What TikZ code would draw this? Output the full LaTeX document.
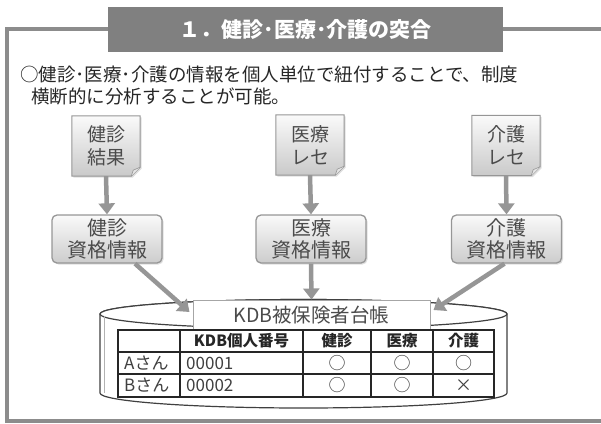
\documentclass[tikz,border=0pt]{standalone}
\usepackage{fontspec}
\setmainfont{Noto Sans CJK JP}
\usetikzlibrary{arrows.meta,shadows,calc}
\pgfdeclarelayer{bg}
\pgfsetlayers{bg,main}
\definecolor{framegray}{RGB}{140,140,140}
\definecolor{titlegray}{RGB}{128,128,128}
\definecolor{arrowgray}{RGB}{150,150,150}
\definecolor{txtgray}{RGB}{75,75,75}
\definecolor{boxedge}{RGB}{150,150,150}
\begin{document}
\begin{tikzpicture}[x=1pt,y=-1pt,
  titlebox/.style={fill=titlegray,text=white,minimum width=395pt,minimum height=45pt,inner sep=0pt,font=\fontsize{21}{24}\selectfont\bfseries},
  bodytext/.style={anchor=base west,inner sep=0pt,text=black!85,font=\fontsize{18.5}{22}\selectfont},
  docnode/.style={minimum width=68pt,minimum height=60pt,inner sep=0pt,align=center,text=txtgray,font=\fontsize{19}{23}\selectfont},
  qualbox/.style={draw=boxedge,line width=1.3pt,rounded corners=5pt,top color=gray!4,bottom color=gray!40,minimum width=110pt,minimum height=48pt,inner sep=0pt,align=center,text=txtgray,font=\fontsize{20}{22}\selectfont,drop shadow={opacity=0.25,shadow xshift=1.5pt,shadow yshift=-1.5pt}},
  docfill/.style={draw=boxedge,line width=1pt,top color=gray!4,bottom color=gray!42,drop shadow={opacity=0.25,shadow xshift=1.5pt,shadow yshift=-1.5pt}},
  arr/.style={draw=arrowgray,line width=4.5pt,-{Triangle[width=16pt,length=11pt]}},
  kdbbox/.style={draw=gray!70,line width=1pt,fill=white,minimum width=237pt,minimum height=30pt,inner sep=0pt,text=txtgray,font=\fontsize{19.5}{22}\selectfont},
  cyl/.style={draw=black!75,line width=1.2pt,fill=white},
  cell/.style={inner sep=0pt,text=black!75,font=\fontsize{17}{18}\selectfont},
  hcell/.style={cell,text=black!85,font=\fontsize{15.5}{17}\selectfont\bfseries},
  grid/.style={draw=black!85,line width=1.3pt}
]
\useasboundingbox (0,0) rectangle (601,423);
% outer frame
\draw[framegray,line width=3.5pt] (601,29) -- (7,29) -- (7,421) -- (601,421);
% title
\node[titlebox] (title) at (305.5,29.5) {１．健診･医療･介護の突合};
% intro text
\node[bodytext] (l1) at (20,81) {○健診･医療･介護の情報を個人単位で紐付することで、制度};
\node[bodytext] (l2) at (31,103) {横断的に分析することが可能。};
% documents
\node[docnode] (d1) at (106,146) {健診\\結果};
\node[docnode] (d2) at (310,145) {医療\\レセ};
\node[docnode] (d3) at (506,145.5) {介護\\レセ};
\begin{pgfonlayer}{bg}
\foreach \d in {d1,d2,d3}{
  \path[docfill] (\d.north west) -- (\d.north east) -- ($(\d.south east)+(0,-9)$) -- ($(\d.south east)+(-9,0)$) -- (\d.south west) -- cycle;
  \fill[gray!20,draw=boxedge,line width=0.6pt] ($(\d.south east)+(0,-9)$) -- ($(\d.south east)+(-7,-6)$) -- ($(\d.south east)+(-9,0)$);
}
\end{pgfonlayer}
% qualification boxes
\node[qualbox] (q1) at (107,239) {健診\\資格情報};
\node[qualbox] (q2) at (311,239) {医療\\資格情報};
\node[qualbox] (q3) at (506.5,239) {介護\\資格情報};
% arrows doc -> qual
\draw[arr] (d1.south) -- (q1.north);
\draw[arr] (d2.south) -- (q2.north);
\draw[arr] (d3.south) -- (q3.north);
% cylinder
\path[cyl] (100,314) -- (100,393) arc[start angle=180,end angle=360,x radius=203.5,y radius=-15] -- (507,314) arc[start angle=0,end angle=180,x radius=203.5,y radius=-14.5] -- cycle;
\draw[cyl] (303.5,314) ellipse[x radius=203.5,y radius=14.5];
\draw[gray!60,line width=0.8pt] (104,316) -- (104,393);
% KDB box
\node[kdbbox] (kdb) at (311.5,315) {KDB被保険者台帳};
% arrows qual -> kdb
\coordinate (e1) at ($(kdb.west)+(-3,-3)$);
\coordinate (e3) at ($(kdb.east)+(3,-5)$);
\draw[arr] ($(q1.south)+(28,0)$) -- (e1);
\draw[arr] (q2.south) -- (kdb.north);
\draw[arr] ($(q3.south)+(-2,0)$) -- (e3);
% table
\fill[white] (118,330) rectangle (494,397);
\draw[grid] (118,330) rectangle (494,397);
\foreach \yy in {352,374} \draw[grid] (118,\yy) -- (494,\yy);
\foreach \xx in {180,303,371,433} \draw[grid] (\xx,330) -- (\xx,397);
\node[hcell] (h2) at (241.5,341) {KDB個人番号};
\node[hcell] (h3) at (337,341) {健診};
\node[hcell] (h4) at (402,341) {医療};
\node[hcell] (h5) at (463.5,341) {介護};
\node[cell,anchor=west] (a1) at (124,363) {Aさん};
\node[cell,anchor=west] (a2) at (186,363) {00001};
\node[cell] (a3) at (337,363) {○};
\node[cell] (a4) at (402,363) {○};
\node[cell] (a5) at (463.5,363) {○};
\node[cell,anchor=west] (b1) at (124,385.5) {Bさん};
\node[cell,anchor=west] (b2) at (186,385.5) {00002};
\node[cell] (b3) at (337,385.5) {○};
\node[cell] (b4) at (402,385.5) {○};
\node[cell] (b5) at (463.5,385.5) {×};
\end{tikzpicture}
\end{document}
